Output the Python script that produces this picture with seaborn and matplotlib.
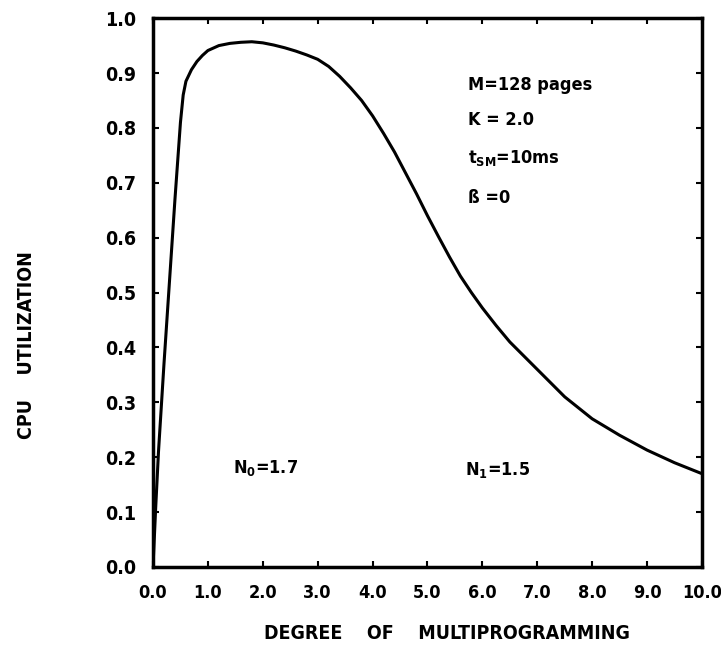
import matplotlib
matplotlib.use("Agg")
import matplotlib.pyplot as plt
import seaborn as sns
import pandas as pd

# values
degree = [0.0, 0.05, 0.1, 0.2, 0.3, 0.4, 0.5, 0.55, 0.6, 0.7, 0.8, 0.9, 1.0,
          1.2, 1.4, 1.6, 1.8, 2.0, 2.2, 2.4, 2.6, 2.8, 3.0, 3.2, 3.4, 3.6,
          3.8, 4.0, 4.2, 4.4, 4.6, 4.8, 5.0, 5.2, 5.4, 5.6, 5.8, 6.0, 6.25,
          6.5, 6.75, 7.0, 7.5, 8.0, 8.5, 9.0, 9.5, 10.0]
cpu_util = [0.0, 0.11, 0.21, 0.37, 0.52, 0.67, 0.81, 0.86, 0.885, 0.906, 0.921, 0.932, 0.941,
            0.950, 0.954, 0.956, 0.957, 0.955, 0.951, 0.946, 0.940, 0.933, 0.925, 0.912, 0.894, 0.873,
            0.850, 0.822, 0.79, 0.756, 0.718, 0.68, 0.64, 0.602, 0.565, 0.53, 0.5, 0.472, 0.44,
            0.41, 0.385, 0.36, 0.31, 0.27, 0.24, 0.213, 0.19, 0.17]

x_ticks = [0, 1, 2, 3, 4, 5, 6, 7, 8, 9, 10]
y_ticks = [0.0, 0.1, 0.2, 0.3, 0.4, 0.5, 0.6, 0.7, 0.8, 0.9, 1.0]

params = ["M=128 pages", "K = 2.0", r"t$_{\mathbf{SM}}$=10ms", "ß =0"]
param_y = [0.878, 0.814, 0.746, 0.672]

sns.set_style("ticks")
plt.rcParams.update({
    "font.family": ["DejaVu Sans"],
    "font.weight": "bold",
    "font.stretch": "condensed",
    "text.color": "black",
    "axes.labelcolor": "black",
    "axes.edgecolor": "black",
    "xtick.color": "black",
    "ytick.color": "black",
})

df = pd.DataFrame({"degree": degree, "cpu": cpu_util})

fig = plt.figure(figsize=(7.21, 6.48), dpi=100)
ax = fig.add_axes([0.2122, 0.125, 0.7614, 0.847])

sns.lineplot(data=df, x="degree", y="cpu", color="black", linewidth=2.2,
             sort=False, ax=ax)

ax.set_xlim(0, 10)
ax.set_ylim(0, 1.0)
ax.set_xticks(x_ticks)
ax.set_xticklabels([f"{v:.1f}" for v in x_ticks])
ax.set_yticks(y_ticks)
ax.set_yticklabels([f"{v:.1f}" for v in y_ticks])

for s in ax.spines.values():
    s.set_visible(True)
    s.set_linewidth(2.5)
    s.set_color("black")
ax.tick_params(direction="in", length=4, width=1.5, top=True, right=True,
               labelsize=13, pad=12, colors="black")
ax.tick_params(axis="y", labelsize=14)
for lab in ax.get_xticklabels() + ax.get_yticklabels():
    lab.set_fontweight("bold")

ax.set_xlabel("DEGREE    OF    MULTIPROGRAMMING", fontsize=14, fontweight="bold")
ax.xaxis.set_label_coords(0.535, -0.104)
ax.set_ylabel("CPU    UTILIZATION", fontsize=14, fontweight="bold")
ax.yaxis.set_label_coords(-0.214, 0.404)

for txt, yy in zip(params, param_y):
    ax.text(5.74, yy, txt, fontsize=13, fontweight="bold", va="center", ha="left")

ax.text(1.45, 0.18, r"N$_{\mathbf{0}}$=1.7", fontsize=13, fontweight="bold", va="center")
ax.text(5.68, 0.177, r"N$_{\mathbf{1}}$=1.5", fontsize=13, fontweight="bold", va="center")

fig.savefig("out.png", dpi=100)
